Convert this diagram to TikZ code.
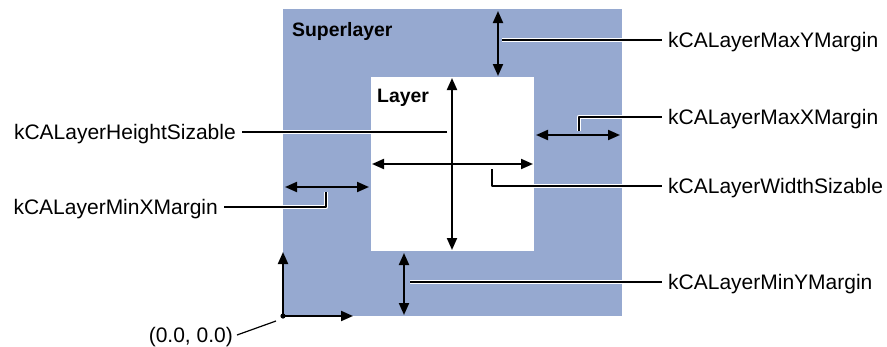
\documentclass[tikz,border=0pt]{standalone}
\usepackage{fontspec}
\setmainfont{Liberation Sans}
\usetikzlibrary{arrows.meta}
\definecolor{superblue}{RGB}{150,169,208}
\tikzset{
  tip/.style={Triangle[length=12pt,width=10pt]},
  dimarrow/.style={line width=2pt, {Triangle[length=12pt,width=10pt]}-{Triangle[length=12pt,width=10pt]}},
  axisarrow/.style={line width=2pt, -{Triangle[length=12pt,width=10pt]}},
  leader/.style={line width=1.2pt, preaction={draw=white, line width=4.5pt}},
  lbl/.style={font=\fontsize{21}{24}\selectfont, inner xsep=6pt, inner ysep=0pt, text depth=0pt},
  layertitle/.style={font=\fontsize{19.4}{22}\selectfont\bfseries, inner sep=0pt, text depth=0pt, anchor=west}
}
\begin{document}
\begin{tikzpicture}[x=1pt, y=-1pt, line join=round]
  \useasboundingbox (0,0) rectangle (887,346);
  % superlayer and layer
  \fill[superblue] (283,9) rectangle (622,316);
  \fill[white] (371,77) rectangle (534,251);
  \node[layertitle] (super) at (292,29) {Superlayer};
  \node[layertitle] (layer) at (377,96) {Layer};
  % margins and sizes
  \draw[dimarrow] (498,11) -- (498,76);
  \draw[dimarrow] (536,135) -- (620,135);
  \draw[dimarrow] (285,187) -- (369,187);
  \draw[dimarrow] (404,253) -- (404,315);
  \draw[dimarrow] (452,78) -- (452,250);
  \draw[dimarrow] (372,164) -- (533,164);
  % origin
  \coordinate (O) at (283,316);
  \draw[axisarrow] (O) -- (283,252);
  \draw[axisarrow] (O) -- (353,316);
  \fill (O) circle (2.6pt);
  % labels
  \node[lbl, anchor=west] (maxy) at (662,40) {kCALayerMaxYMargin};
  \node[lbl, anchor=west] (maxx) at (662,117) {kCALayerMaxXMargin};
  \node[lbl, anchor=west] (width) at (662,186) {kCALayerWidthSizable};
  \node[lbl, anchor=west] (miny) at (662,282) {kCALayerMinYMargin};
  \node[lbl, anchor=east] (height) at (242,132) {kCALayerHeightSizable};
  \node[lbl, anchor=east] (minx) at (224,207) {kCALayerMinXMargin};
  \node[lbl, anchor=east, inner xsep=4pt] (orig) at (237,335) {(0.0, 0.0)};
  % leaders
  \coordinate (maxyA) at (502,40);
  \coordinate (maxxA) at (579,131);
  \coordinate (widthA) at (492,169);
  \coordinate (minyA) at (410,282);
  \coordinate (heightA) at (447,132);
  \coordinate (minxA) at (326,192);
  \coordinate (origA) at (276,321);
  \draw[leader] (maxyA) -- (maxy.west);
  \draw[leader] (maxxA) |- (maxx.west);
  \draw[leader] (widthA) |- (width.west);
  \draw[leader] (minyA) -- (miny.west);
  \draw[leader] (heightA) -- (height.east);
  \draw[leader] (minxA) |- (minx.east);
  \draw[line width=1.2pt] (origA) -- (orig.east);
\end{tikzpicture}
\end{document}
